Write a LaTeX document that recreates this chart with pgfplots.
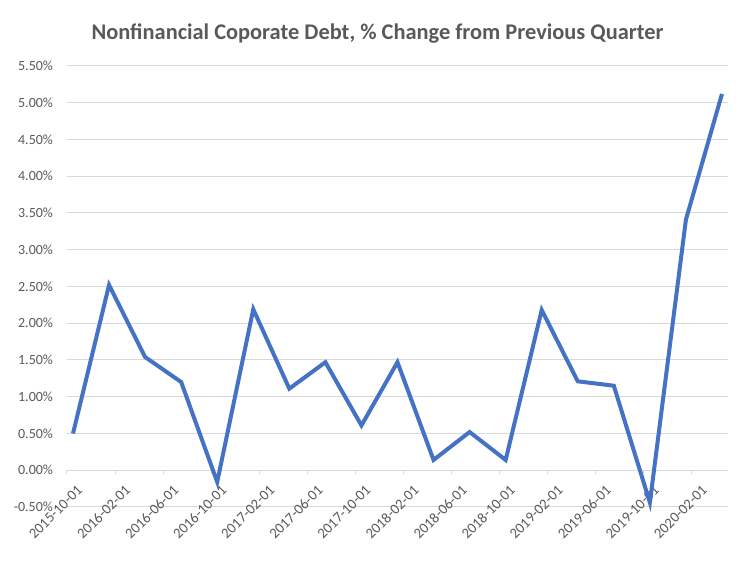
\documentclass[border=0pt]{standalone}
\usepackage{pgfplots}
\pgfplotsset{compat=1.18}
\usepackage{fontspec}
\setmainfont{Carlito}
\definecolor{lineblue}{HTML}{4472C4}
\definecolor{gridgray}{HTML}{D9D9D9}
\definecolor{textgray}{HTML}{595959}
\begin{document}
\begin{tikzpicture}
% page size fixed to the reference (751x563 px = 563.25x422.25 pt)
\path[use as bounding box] (-50.25pt,-42pt) rectangle (513pt,380.25pt);
\node[font=\fontsize{16.8}{19}\selectfont\bfseries, text=textgray] at (232.9pt,355pt)
  {Nonfinancial Coporate Debt, \% Change from Previous Quarter};
\begin{axis}[
  scale only axis, width=495.75pt, height=330.75pt,
  xmin=-0.5, xmax=54.5, ymin=-0.5, ymax=5.5,
  axis x line=middle, axis y line*=left,
  hide obscured x ticks=false,
  x axis line style={-, draw=gridgray, line width=0.75pt},
  y axis line style={draw=none},
  ytick={-0.5,0,0.5,1,1.5,2,2.5,3,3.5,4,4.5,5,5.5},
  yticklabels={-0.50\%,0.00\%,0.50\%,1.00\%,1.50\%,2.00\%,2.50\%,3.00\%,3.50\%,4.00\%,4.50\%,5.00\%,5.50\%},
  ytick style={draw=none},
  ymajorgrids, grid style={draw=gridgray, line width=0.75pt},
  xtick={-0.5,3.5,7.5,11.5,15.5,19.5,23.5,27.5,31.5,35.5,39.5,43.5,47.5,51.5},
  xticklabels={2015-10-01,2016-02-01,2016-06-01,2016-10-01,2017-02-01,2017-06-01,2017-10-01,2018-02-01,2018-06-01,2018-10-01,2019-02-01,2019-06-01,2019-10-01,2020-02-01},
  xtick align=outside, major tick length=3pt,
  xtick style={draw=gridgray, line width=0.75pt},
  ticklabel style={font=\fontsize{10.5}{12}\selectfont, text=textgray},
  xticklabel style={font=\fontsize{11}{12}\selectfont, rotate=45, anchor=east, xshift=3pt, yshift=-14pt},
  yticklabel style={xshift=-7pt},
  clip=false,
]
\addplot[lineblue, line width=3pt] coordinates {
  (0,0.50) (3,2.52) (6,1.54) (9,1.20) (12,-0.16) (15,2.19) (18,1.11)
  (21,1.47) (24,0.61) (27,1.47) (30,0.14) (33,0.52) (36,0.14) (39,2.18)
  (42,1.21) (45,1.15) (48,-0.44) (51,3.41) (54,5.12)
};
\end{axis}
\end{tikzpicture}
\end{document}
